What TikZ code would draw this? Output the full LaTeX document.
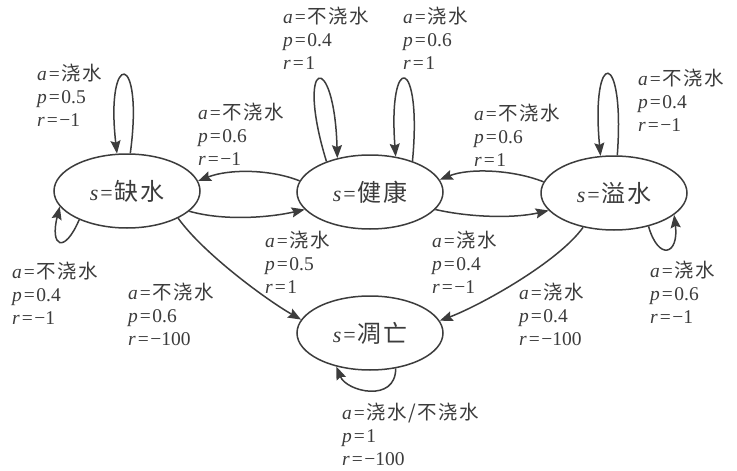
\documentclass[tikz,border=0pt]{standalone}
\usepackage{fontspec}
\setmainfont{Liberation Serif}
\newfontfamily\lat{Liberation Serif}
\newfontfamily\cjk[Scale=1.0,LetterSpace=8]{Noto Sans CJK SC}
\usetikzlibrary{arrows.meta,shapes.geometric}
\definecolor{ink}{RGB}{60,60,60}
\newcommand\zh[1]{{\cjk #1}}
\newcommand\eqs{\kern1.2pt=\kern1.5pt}
\newcommand\iv[1]{\textit{#1}\kern0.8pt}
\newcommand\tlabel[3]{\iv{a}\eqs\zh{#1}\\\iv{p}\eqs#2\\\iv{r}\eqs#3}
\begin{document}
\begin{tikzpicture}[x=1pt,y=-1pt,
  st/.style={ellipse,draw=ink,line width=1.5pt,minimum width=146pt,minimum height=74pt,inner sep=0pt,text=ink,font=\lat\fontsize{22}{26}\selectfont},
  conn/.style={draw=ink,line width=1.5pt,-{Stealth[length=13pt,width=10pt,inset=2pt]}},
  lbl/.style={anchor=north west,align=left,inner sep=0pt,text=ink,font=\lat\fontsize{19.5}{23}\selectfont}]
\path[fill=white] (0,0) rectangle (737,471);
\useasboundingbox (0,0) rectangle (737,471);
% states
\node[st] (q) at (127,191) {\iv{s}\eqs\zh{\fontsize{24}{26}\selectfont 缺水}};
\node[st] (h) at (370,192) {\iv{s}\eqs\zh{\fontsize{24}{26}\selectfont 健康}};
\node[st] (s) at (614,193) {\iv{s}\eqs\zh{\fontsize{24}{26}\selectfont 溢水}};
\node[st] (d) at (370,333) {\iv{s}\eqs\zh{\fontsize{24}{26}\selectfont 凋亡}};
% connectors
\draw[conn] (q.85) .. controls +(14,-104) and +(-12,-104) .. (q.105);
\draw[conn] (q.211) .. controls +(-15,35) and +(-10,40) .. (q.193);
\draw[conn] (q.-18) .. controls +(35,10) and +(-35,8) .. (h.195);
\draw[conn] (h.171) .. controls +(-30,-12) and +(30,-12) .. (q.8);
\draw[conn] (h.145) .. controls +(-32,-104) and +(-3,-110) .. (h.134);
\draw[conn] (h.36) .. controls +(10,-106) and +(-8,-106) .. (h.54);
\draw[conn] (s.171) .. controls +(-30,-12) and +(30,-12) .. (h.10);
\draw[conn] (h.-15) .. controls +(35,8) and +(-35,8) .. (s.195);
\draw[conn] (s.85) .. controls +(8,-108) and +(-10,-108) .. (s.110);
\draw[conn] (s.-44) .. controls +(10,35) and +(5,40) .. (s.-20);
\draw[conn] (q.-28) .. controls +(25,35) and +(-35,-20) .. (d.169);
\draw[conn] (s.228) .. controls +(-25,35) and +(40,-15) .. (d.10);
\draw[conn] (d.-54) .. controls +(0,35) and +(10,25) .. (d.225);
% labels
\node[lbl] (l1) at (37,64) {\tlabel{浇水}{0.5}{−1}};
\node[lbl] (l2) at (12,262) {\tlabel{不浇水}{0.4}{−1}};
\node[lbl] (l3) at (265,231) {\tlabel{浇水}{0.5}{1}};
\node[lbl] (l4) at (198,103) {\tlabel{不浇水}{0.6}{−1}};
\node[lbl] (l5) at (283,7) {\tlabel{不浇水}{0.4}{1}};
\node[lbl] (l6) at (403,7) {\tlabel{浇水}{0.6}{1}};
\node[lbl] (l7) at (474,104) {\tlabel{不浇水}{0.6}{1}};
\node[lbl] (l8) at (432,231) {\tlabel{浇水}{0.4}{−1}};
\node[lbl] (l9) at (638,69) {\tlabel{不浇水}{0.4}{−1}};
\node[lbl] (l10) at (650,261) {\tlabel{浇水}{0.6}{−1}};
\node[lbl] (l11) at (128,283) {\tlabel{不浇水}{0.6}{−100}};
\node[lbl] (l12) at (519,283) {\tlabel{浇水}{0.4}{−100}};
\node[lbl] (l13) at (342,403) {\tlabel{浇水/不浇水}{1}{−100}};
\end{tikzpicture}
\end{document}
